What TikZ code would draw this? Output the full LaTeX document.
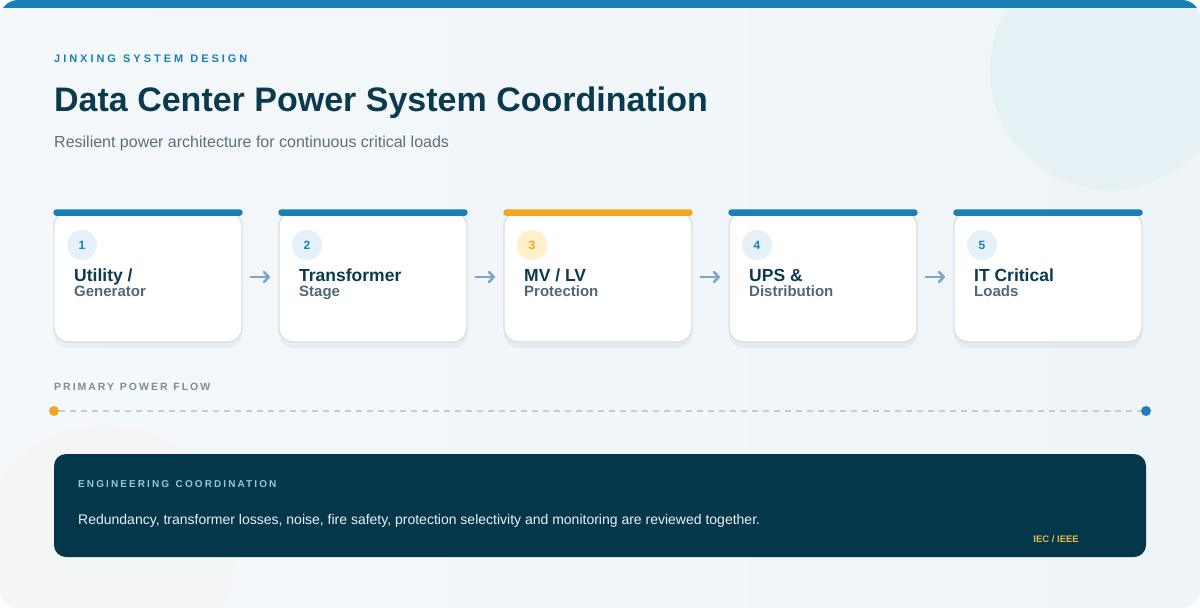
\documentclass[tikz,border=0pt]{standalone}
\usepackage{fontspec}
\setmainfont{Liberation Sans}
\usetikzlibrary{positioning, arrows.meta, shadows}

\definecolor{brandblue}{HTML}{1B7FB4}
\definecolor{navy}{HTML}{0B3A4F}
\definecolor{slate}{HTML}{4F6777}
\definecolor{muted}{HTML}{5D6F7B}
\definecolor{pageleft}{HTML}{F4F8FB}
\definecolor{pageright}{HTML}{EEF4F8}
\definecolor{bubble}{HTML}{E6F1F6}
\definecolor{cream}{HTML}{F4F6F3}
\definecolor{cardline}{HTML}{D3DFE6}
\definecolor{amber}{HTML}{F2A51F}
\definecolor{amberlight}{HTML}{FFEFCB}
\definecolor{bluelight}{HTML}{E4F1F8}
\definecolor{flowarrow}{HTML}{7EA8C2}
\definecolor{dashgray}{HTML}{BFCDD5}
\definecolor{flowlabel}{HTML}{7A8D99}
\definecolor{panelfill}{HTML}{05374B}
\definecolor{panelhead}{HTML}{8CCBDD}
\definecolor{paneltext}{HTML}{E9F1F5}
\definecolor{gold}{HTML}{E3B84C}

\newcommand{\px}[1]{\fontsize{#1}{#1}\selectfont}
\newcommand{\spaced}[2]{\addfontfeature{LetterSpace=#1}\spaceskip=#2em\relax}

\begin{document}
\begin{tikzpicture}[x=1pt, y=-1pt, >=latex,
    card/.style={draw=cardline, line width=1.3pt, fill=white, rounded corners=14pt,
        minimum width=188pt, minimum height=130pt, inner sep=0pt,
        drop shadow={shadow xshift=0pt, shadow yshift=-6pt, opacity=.05, fill=navy}},
    numdot/.style={circle, fill=bluelight, text=brandblue, minimum size=30pt,
        inner sep=0pt, font=\bfseries\px{12}},
    head/.style={anchor=base west, inner sep=0pt, text=navy, font=\bfseries\px{17.5}},
    sub/.style={anchor=base west, inner sep=0pt, text=slate, font=\bfseries\px{15}},
    flow/.style={flowarrow, line width=2.6pt, line cap=round, shorten <=8pt, shorten >=8pt,
        -{Straight Barb[length=4.5pt, width=10pt, line cap=round]}},
    dot/.style={circle, minimum size=10pt, inner sep=0pt}]

    \useasboundingbox (0,0) rectangle (1200,608);

    % page background
    \begin{scope}
        \clip[rounded corners=18pt] (0,0) rectangle (1200,608);
        \shade[left color=pageleft, right color=pageright] (0,0) rectangle (1200,608);
        \fill[bubble] (1110,70) circle (120);
        \fill[cream] (105,555) circle (130);
        \fill[brandblue] (0,0) rectangle (1200,8);
    \end{scope}

    % heading
    \node[anchor=base west, inner sep=0pt, text=brandblue, font=\bfseries\px{11}\spaced{27}{0.65}] (kicker) at (54,62) {JINXING SYSTEM DESIGN};
    \node[anchor=base west, inner sep=0pt, text=navy, font=\bfseries\px{34}] (title) at (54,111) {Data Center Power System Coordination};
    \node[anchor=base west, inner sep=0pt, text=muted, font=\px{16}] (tagline) at (54,147) {Resilient power architecture for continuous critical loads};

    % stage cards
    \node[card] (c1) at (148,277) {};
    \node[card] (c2) at (373,277) {};
    \node[card] (c3) at (598,277) {};
    \node[card] (c4) at (823,277) {};
    \node[card] (c5) at (1048,277) {};

    \fill[brandblue, rounded corners=3pt] ([yshift=2pt]c1.north west) rectangle ([yshift=-4.5pt]c1.north east);
    \fill[brandblue, rounded corners=3pt] ([yshift=2pt]c2.north west) rectangle ([yshift=-4.5pt]c2.north east);
    \fill[amber, rounded corners=3pt] ([yshift=2pt]c3.north west) rectangle ([yshift=-4.5pt]c3.north east);
    \fill[brandblue, rounded corners=3pt] ([yshift=2pt]c4.north west) rectangle ([yshift=-4.5pt]c4.north east);
    \fill[brandblue, rounded corners=3pt] ([yshift=2pt]c5.north west) rectangle ([yshift=-4.5pt]c5.north east);

    \node[numdot] (n1) at (82,245) {1};
    \node[numdot] (n2) at (307,245) {2};
    \node[numdot, fill=amberlight, text=amber] (n3) at (532,245) {3};
    \node[numdot] (n4) at (757,245) {4};
    \node[numdot] (n5) at (982,245) {5};

    \node[head] (h1) at (74,281) {Utility /};
    \node[sub] (s1) at (74,296) {Generator};
    \node[head] (h2) at (299,281) {Transformer};
    \node[sub] (s2) at (299,296) {Stage};
    \node[head] (h3) at (524,281) {MV / LV};
    \node[sub] (s3) at (524,296) {Protection};
    \node[head] (h4) at (749,281) {UPS \&};
    \node[sub] (s4) at (749,296) {Distribution};
    \node[head] (h5) at (974,281) {IT Critical};
    \node[sub] (s5) at (974,296) {Loads};

    \draw[flow] (c1) -- (c2);
    \draw[flow] (c2) -- (c3);
    \draw[flow] (c3) -- (c4);
    \draw[flow] (c4) -- (c5);

    % primary power flow
    \node[anchor=base west, inner sep=0pt, text=flowlabel, font=\bfseries\px{10.5}\spaced{19}{0.55}] (flowtitle) at (54,390) {PRIMARY POWER FLOW};
    \node[dot, fill=amber] (src) at (54,411) {};
    \node[dot, fill=brandblue] (sink) at (1146,411) {};
    \draw[dashgray, line width=1.5pt, dash pattern=on 6pt off 5pt] (src) -- (sink);

    % coordination panel
    \node[fill=panelfill, rounded corners=12pt, minimum width=1092pt, minimum height=103pt, inner sep=0pt] (panel) at (600,505.5) {};
    \node[anchor=base west, inner sep=0pt, text=panelhead, font=\bfseries\px{10}\spaced{21}{0.65}] (paneltitle) at (78,487) {ENGINEERING COORDINATION};
    \node[anchor=base west, inner sep=0pt, text=paneltext, font=\px{14}] (panelbody) at (78,524) {Redundancy, transformer losses, noise, fire safety, protection selectivity and monitoring are reviewed together.};
    \node[anchor=base east, inner sep=0pt, text=gold, font=\bfseries\px{9.5}] (standard) at (1079,542) {IEC / IEEE};
\end{tikzpicture}
\end{document}
